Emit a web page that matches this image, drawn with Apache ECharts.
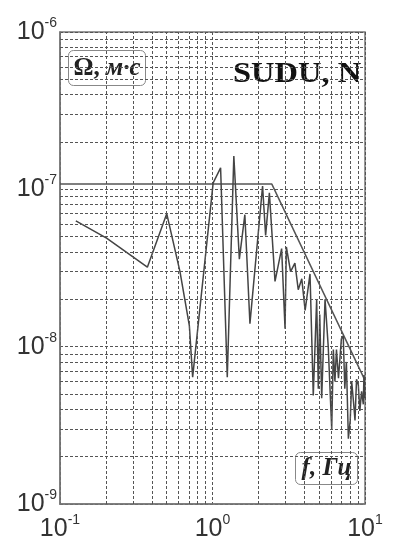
<!DOCTYPE html>
<html>
<head>
<meta charset="utf-8">
<script src="https://cdn.jsdelivr.net/npm/echarts@6/dist/echarts.min.js"></script>
<style>
  html, body { margin: 0; padding: 0; background: #fff; }
  #chart { width: 393px; height: 545px; }
</style>
</head>
<body>
<div id="chart"></div>
<script>
// spectrum (f in Hz, amplitude in m*s)
var specFreq = [0.127, 0.202, 0.374, 0.501, 0.612, 0.705, 0.741, 1.01, 1.13, 1.25,
  1.38, 1.50, 1.63, 1.76, 2.13, 2.23, 2.36, 2.57, 2.84, 2.99,
  3.05, 3.25, 3.47, 3.65, 3.85, 4.05, 4.36, 4.58, 4.82, 4.94,
  5.05, 5.2, 5.47, 5.74, 6.05, 6.2, 6.35, 6.5, 6.7, 7.0,
  7.2, 7.37, 7.55, 7.78, 8.0, 8.18, 8.4, 8.6, 8.8, 9.04,
  9.25, 9.5, 9.75, 9.84, 10];
var specAmp = [6.3e-8, 4.9e-8, 3.2e-8, 7.0e-8, 3.0e-8, 1.36e-8, 6.4e-9, 1.1e-7, 1.37e-7, 6.4e-9,
  1.63e-7, 3.6e-8, 6.9e-8, 1.4e-8, 1.05e-7, 5.1e-8, 9.5e-8, 2.6e-8, 4.2e-8, 1.3e-8,
  4.3e-8, 3.0e-8, 3.4e-8, 2.3e-8, 2.7e-8, 1.7e-8, 2.9e-8, 4.9e-9, 2.0e-8, 5.4e-9,
  1.6e-8, 4.7e-9, 2.0e-8, 1.0e-8, 3.0e-9, 9.6e-9, 6.0e-9, 9.6e-9, 6.3e-9, 1.12e-8,
  1.17e-8, 5.4e-9, 8.0e-9, 2.6e-9, 3.4e-9, 6.0e-9, 4.5e-9, 3.4e-9, 6.2e-9, 5.7e-9,
  3.9e-9, 5.2e-9, 4.3e-9, 6.6e-9, 4.7e-9];

// model (flat + f^-2)
var modelFreq = [0.1, 2.45, 10];
var modelAmp = [1.08e-7, 1.08e-7, 6.1e-9];

var xRange = [0.1, 10];
var yRange = [1e-9, 1e-6];
var xDecades = [0.1, 1];
var yDecades = [1e-9, 1e-8, 1e-7];
var mantissas = [2, 3, 4, 5, 6, 7, 8, 9];

var chart = echarts.init(document.getElementById('chart'));

function pairs(xs, ys) {
  return xs.map(function (x, i) { return [x, ys[i]]; });
}

// minor log grid, drawn as mark lines between explicit data coords
var minorLines = [];
xDecades.forEach(function (d) {
  mantissas.forEach(function (m) {
    var v = +(m * d).toPrecision(3);
    minorLines.push([{ coord: [v, yRange[0]] }, { coord: [v, yRange[1]] }]);
  });
});
yDecades.forEach(function (d) {
  mantissas.forEach(function (m) {
    var v = +(m * d).toPrecision(3);
    minorLines.push([{ coord: [xRange[0], v] }, { coord: [xRange[1], v] }]);
  });
});

var gridDash = { color: '#555', width: 1, type: [3, 2] };

function powLabel(v) {
  var e = Math.round(Math.log10(v));
  return '10{sup|' + e + '}';
}
var labelRich = {
  sup: { fontSize: 14, fontFamily: 'Liberation Sans', color: '#333', verticalAlign: 'top', lineHeight: 32 }
};

var option = {
  animation: false,
  backgroundColor: '#fff',
  grid: {
    left: 60, right: 28, top: 32, bottom: 39,
    show: true, borderColor: '#777', borderWidth: 1.5, backgroundColor: 'transparent'
  },
  xAxis: {
    type: 'log', logBase: 10, min: xRange[0], max: xRange[1],
    axisLine: { show: true, lineStyle: { color: '#777', width: 1.5 } },
    axisTick: { show: false },
    splitLine: { show: true, lineStyle: gridDash },
    axisLabel: {
      formatter: powLabel, margin: 9,
      fontSize: 25, fontFamily: 'Liberation Sans', color: '#333', lineHeight: 32,
      rich: labelRich
    }
  },
  yAxis: {
    type: 'log', logBase: 10, min: yRange[0], max: yRange[1],
    axisLine: { show: true, lineStyle: { color: '#777', width: 1.5 } },
    axisTick: { show: false },
    splitLine: { show: true, lineStyle: gridDash },
    axisLabel: {
      formatter: powLabel, margin: 3,
      fontSize: 25, fontFamily: 'Liberation Sans', color: '#333', lineHeight: 32,
      rich: labelRich
    }
  },
  graphic: [
    {
      type: 'group', left: 68, top: 50,
      children: [
        { type: 'rect', shape: { x: 0, y: 0, width: 77, height: 35, r: 5 },
          style: { fill: '#fff', stroke: '#888', lineWidth: 1 } },
        { type: 'text', x: 38.5, y: 18,
          style: {
            text: '{a|Ω, }{b|м·с}', align: 'center', verticalAlign: 'middle',
            rich: {
              a: { fontSize: 25, fontFamily: 'Liberation Serif', fontWeight: 'bold', fill: '#222' },
              b: { fontSize: 25, fontFamily: 'Liberation Serif', fontStyle: 'italic', fontWeight: 'bold', fill: '#222' }
            }
          } }
      ]
    },
    {
      type: 'text', left: 233, top: 60, scaleX: 1.12,
      style: { text: 'SUDU, N', fontSize: 29, fontFamily: 'Liberation Serif', fontWeight: 'bold', fill: '#111' }
    },
    {
      type: 'group', left: 295, top: 452,
      children: [
        { type: 'rect', shape: { x: 0, y: 0, width: 62, height: 32, r: 5 },
          style: { fill: '#fff', stroke: '#888', lineWidth: 1 } },
        { type: 'text', x: 31, y: 16,
          style: {
            text: 'f, Гц', align: 'center', verticalAlign: 'middle',
            fontSize: 25, fontFamily: 'Liberation Serif', fontStyle: 'italic', fontWeight: 'bold', fill: '#222'
          } }
      ]
    }
  ],
  series: [
    {
      type: 'line', data: [], silent: true,
      markLine: {
        silent: true, symbol: 'none', label: { show: false },
        lineStyle: gridDash, data: minorLines, animation: false
      }
    },
    {
      name: 'model', type: 'line', data: pairs(modelFreq, modelAmp),
      showSymbol: false, lineStyle: { color: '#555', width: 1.5 }
    },
    {
      name: 'spectrum', type: 'line', data: pairs(specFreq, specAmp),
      showSymbol: false, lineStyle: { color: '#444', width: 1.5 }
    }
  ]
};
chart.setOption(option);
</script>
</body>
</html>
